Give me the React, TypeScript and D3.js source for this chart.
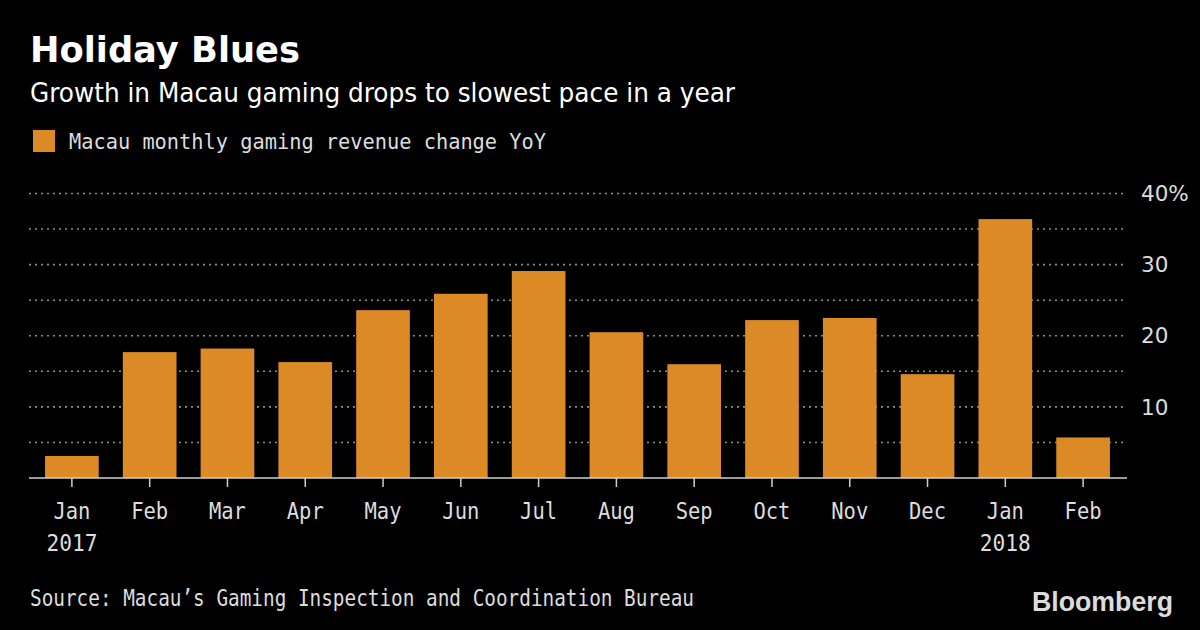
import React, { useEffect } from "react";
import * as d3 from "d3";

const months = ["Jan", "Feb", "Mar", "Apr", "May", "Jun", "Jul", "Aug", "Sep", "Oct", "Nov", "Dec", "Jan", "Feb"];
const years = ["2017", "", "", "", "", "", "", "", "", "", "", "", "2018", ""];
const values = [3.1, 17.7, 18.2, 16.3, 23.6, 25.9, 29.1, 20.5, 16.0, 22.2, 22.5, 14.6, 36.4, 5.7];
const gridValues = [0, 5, 10, 15, 20, 25, 30, 35, 40];
const yTickValues = [10, 20, 30, 40];

const W = 1200;
const H = 630;
const ORANGE = "#db8a26";

export default function App() {
  useEffect(() => {
    document.body.style.margin = "0";
    document.body.style.background = "#000";
  }, []);

  const keys = months.map((m, i) => `${m}-${i}`);
  const x = d3
    .scaleBand<string>()
    .domain(keys)
    .range([33, 1122])
    .paddingInner(0.31)
    .paddingOuter(0.155);
  const y = d3.scaleLinear().domain([0, 40]).range([478, 193.5]);

  const gridX0 = 29;
  const gridX1 = 1127;
  const mono = "'DejaVu Sans Mono', monospace";
  const sans = "'DejaVu Sans', sans-serif";
  const cond = "'DejaVu Sans Condensed', 'DejaVu Sans', sans-serif";

  return (
    <svg width={W} height={H} style={{ display: "block", background: "#000" }}>
      <rect x={0} y={0} width={W} height={H} fill="#000" />
      <text x={30} y={62} fill="#fff" fontFamily={sans} fontWeight="bold" fontSize={35.5} textLength={270} lengthAdjust="spacingAndGlyphs">
        Holiday Blues
      </text>
      <text x={30} y={101.5} fill="#fff" fontFamily={cond} fontSize={26.5} textLength={705} lengthAdjust="spacingAndGlyphs">
        Growth in Macau gaming drops to slowest pace in a year
      </text>
      <rect x={33} y={130} width={22} height={22} fill={ORANGE} />
      <text x={69} y={148.5} fill="#ddd" fontFamily={mono} fontSize={21.5} textLength={477} lengthAdjust="spacingAndGlyphs">
        Macau monthly gaming revenue change YoY
      </text>

      {gridValues.map((g) =>
        g === 0 ? null : (
          <line
            key={`g${g}`}
            x1={gridX0}
            x2={gridX1}
            y1={y(g)}
            y2={y(g)}
            stroke="#8c8c8c"
            strokeWidth={1.6}
            strokeDasharray="2,4"
          />
        )
      )}

      {values.map((v, i) => (
        <rect
          key={`b${i}`}
          x={x(keys[i])}
          y={y(v)}
          width={x.bandwidth()}
          height={y(0) - y(v)}
          fill={ORANGE}
        />
      ))}

      <line x1={gridX0} x2={gridX1} y1={y(0)} y2={y(0)} stroke="#cfcfcf" strokeWidth={1.5} />
      {keys.map((k, i) => {
        const cx = (x(k) as number) + x.bandwidth() / 2;
        return (
          <g key={`t${i}`}>
            <line x1={cx} x2={cx} y1={y(0)} y2={y(0) + 9} stroke="#cfcfcf" strokeWidth={1.5} />
            <text x={cx} y={519} fill="#ddd" fontFamily={mono} fontSize={23} textAnchor="middle" textLength={37} lengthAdjust="spacingAndGlyphs">
              {months[i]}
            </text>
            {years[i] ? (
              <text x={cx} y={550.5} fill="#ddd" fontFamily={mono} fontSize={23} textAnchor="middle" textLength={51} lengthAdjust="spacingAndGlyphs">
                {years[i]}
              </text>
            ) : null}
          </g>
        );
      })}

      {yTickValues.map((t) => (
        <text key={`y${t}`} x={1141} y={y(t) + 7.7} fill="#ddd" fontFamily={sans} fontSize={21.5}>
          {t === 40 ? `${t}%` : `${t}`}
        </text>
      ))}

      <text x={30} y={606} fill="#ddd" fontFamily={mono} fontSize={22.5} textLength={664} lengthAdjust="spacingAndGlyphs">
        Source: Macau’s Gaming Inspection and Coordination Bureau
      </text>
      <text x={1032} y={611} fill="#dcdcdc" fontFamily="'Liberation Sans', Arial, sans-serif" fontWeight="bold" fontSize={28} textLength={141} lengthAdjust="spacingAndGlyphs">
        Bloomberg
      </text>
    </svg>
  );
}
